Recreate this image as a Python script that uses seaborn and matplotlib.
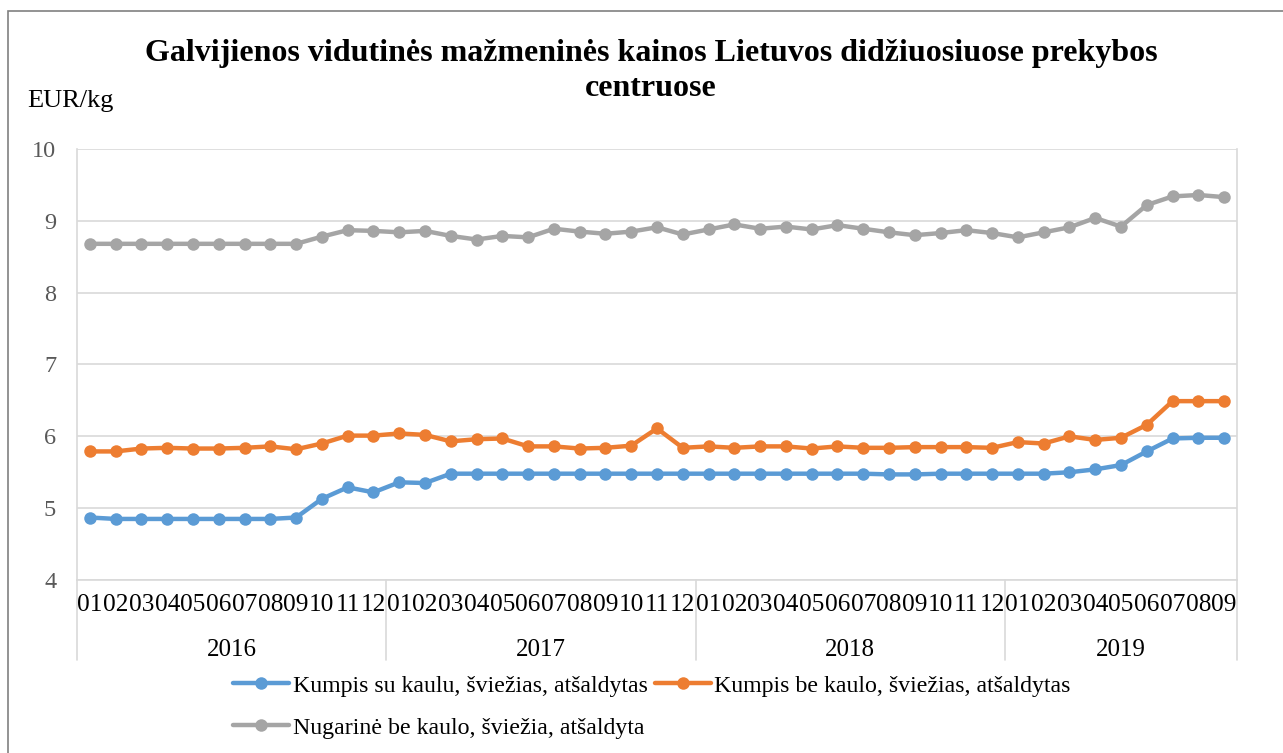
import numpy as np
import pandas as pd
import matplotlib
matplotlib.use("Agg")
import matplotlib.pyplot as plt
import matplotlib.patches as mpatches
import seaborn as sns

# mėnesiai ir metai
years = ["2016", "2017", "2018", "2019"]
months_per_year = [12, 12, 12, 9]
month_labels = [f"{m:02d}" for n in months_per_year for m in range(1, n + 1)]

# kainos EUR/kg
kumpis_su_kaulu = [
    4.87, 4.85, 4.85, 4.85, 4.85, 4.85, 4.85, 4.85, 4.87, 5.13, 5.29, 5.22,
    5.36, 5.35, 5.48, 5.48, 5.48, 5.48, 5.48, 5.48, 5.48, 5.48, 5.48, 5.48,
    5.48, 5.48, 5.48, 5.48, 5.48, 5.48, 5.48, 5.47, 5.47, 5.48, 5.48, 5.48,
    5.48, 5.48, 5.50, 5.54, 5.60, 5.79, 5.97, 5.98, 5.98,
]
kumpis_be_kaulo = [
    5.79, 5.79, 5.83, 5.84, 5.83, 5.83, 5.84, 5.86, 5.82, 5.90, 6.01, 6.01,
    6.04, 6.02, 5.93, 5.96, 5.97, 5.86, 5.86, 5.83, 5.84, 5.87, 6.11, 5.84,
    5.86, 5.84, 5.86, 5.86, 5.83, 5.86, 5.84, 5.84, 5.85, 5.85, 5.85, 5.84,
    5.92, 5.90, 6.00, 5.95, 5.98, 6.16, 6.49, 6.49, 6.49,
]
nugarine = [
    8.68, 8.68, 8.68, 8.68, 8.68, 8.68, 8.68, 8.68, 8.68, 8.78, 8.87, 8.86,
    8.84, 8.86, 8.79, 8.74, 8.79, 8.77, 8.89, 8.85, 8.82, 8.85, 8.91, 8.81,
    8.88, 8.95, 8.89, 8.92, 8.88, 8.94, 8.89, 8.84, 8.80, 8.83, 8.87, 8.83,
    8.77, 8.84, 8.91, 9.04, 8.92, 9.22, 9.34, 9.36, 9.33,
]

series_names = [
    "Kumpis su kaulu, šviežias, atšaldytas",
    "Kumpis be kaulo, šviežias, atšaldytas",
    "Nugarinė be kaulo, šviežia, atšaldyta",
]
colors = ["#5B9BD5", "#ED7D31", "#A5A5A5"]

# long-form lentelė seabornui
idx = np.arange(len(month_labels))
df = pd.concat([
    pd.DataFrame({"idx": idx, "kaina": vals, "serija": name})
    for name, vals in zip(series_names, [kumpis_su_kaulu, kumpis_be_kaulo, nugarine])
], ignore_index=True)

sns.set_style("white")
plt.rcParams["font.family"] = ["Liberation Serif", "DejaVu Serif"]
plt.rcParams["text.color"] = "black"

W, H = 1283, 753
fig = plt.figure(figsize=(W / 100, H / 100), dpi=100)
ax = fig.add_axes([77 / W, 1 - 580 / H, (1237 - 77) / W, (580 - 149) / H])

sns.lineplot(data=df, x="idx", y="kaina", hue="serija", hue_order=series_names,
             palette=dict(zip(series_names, colors)), marker="o", markersize=9,
             markeredgewidth=0, linewidth=3.2, legend=False, ax=ax)

ax.set_xlim(-0.5, len(month_labels) - 0.5)
ax.set_ylim(4, 10)
ax.set_yticks(range(4, 11))
ax.set_xticks(idx)
ax.set_xticklabels(month_labels)
ax.set_xlabel("")
ax.set_ylabel("")
ax.yaxis.grid(True, color="#d9d9d9", linewidth=1.2)
ax.set_axisbelow(True)
ax.tick_params(axis="x", length=0, pad=10, labelsize=18.2, colors="black")
ax.tick_params(axis="y", length=0, pad=15, labelsize=17.5, labelcolor="#595959")
for s in ["left", "right", "bottom"]:
    ax.spines[s].set_color("#d9d9d9")
    ax.spines[s].set_linewidth(1.2)
ax.spines["top"].set_visible(False)

# metų skirtukai ir pavadinimai
trans = ax.get_xaxis_transform()
edges = np.concatenate([[0], np.cumsum(months_per_year)]) - 0.5
for e in edges:
    ax.plot([e, e], [0, -0.186], transform=trans, color="#d9d9d9", lw=1.2, clip_on=False)
for y, a, b in zip(years, edges[:-1], edges[1:]):
    ax.text((a + b) / 2, -0.162, y, transform=trans, ha="center", va="center", fontsize=18)

fig.text(651 / W, 1 - 71 / H,
         "Galvijienos vidutinės mažmeninės kainos Lietuvos didžiuosiuose prekybos\ncentruose",
         ha="center", va="center", fontsize=23, fontweight="bold", linespacing=1.3)
fig.text(27 / W, 1 - 101 / H, "EUR/kg", ha="left", va="center", fontsize=19)

# legenda: eilutėmis kaip Excelyje
lines = ax.lines[:3]
order = [0, 2, 1]
fig.legend([lines[i] for i in order], [series_names[i] for i in order], ncol=2,
           loc="upper left", bbox_to_anchor=(233 / W, 1 - 675 / H), frameon=False,
           fontsize=17.2, handlelength=2.35, handletextpad=0.15, columnspacing=0.3,
           labelspacing=0.85, borderpad=0, borderaxespad=0)

fig.patches.append(mpatches.Rectangle((8 / W, -0.05), 1.1, 1 - 11 / H + 0.05,
                                      transform=fig.transFigure, fill=False,
                                      edgecolor="#808080", linewidth=1.2))

fig.savefig("out.png", dpi=100)
